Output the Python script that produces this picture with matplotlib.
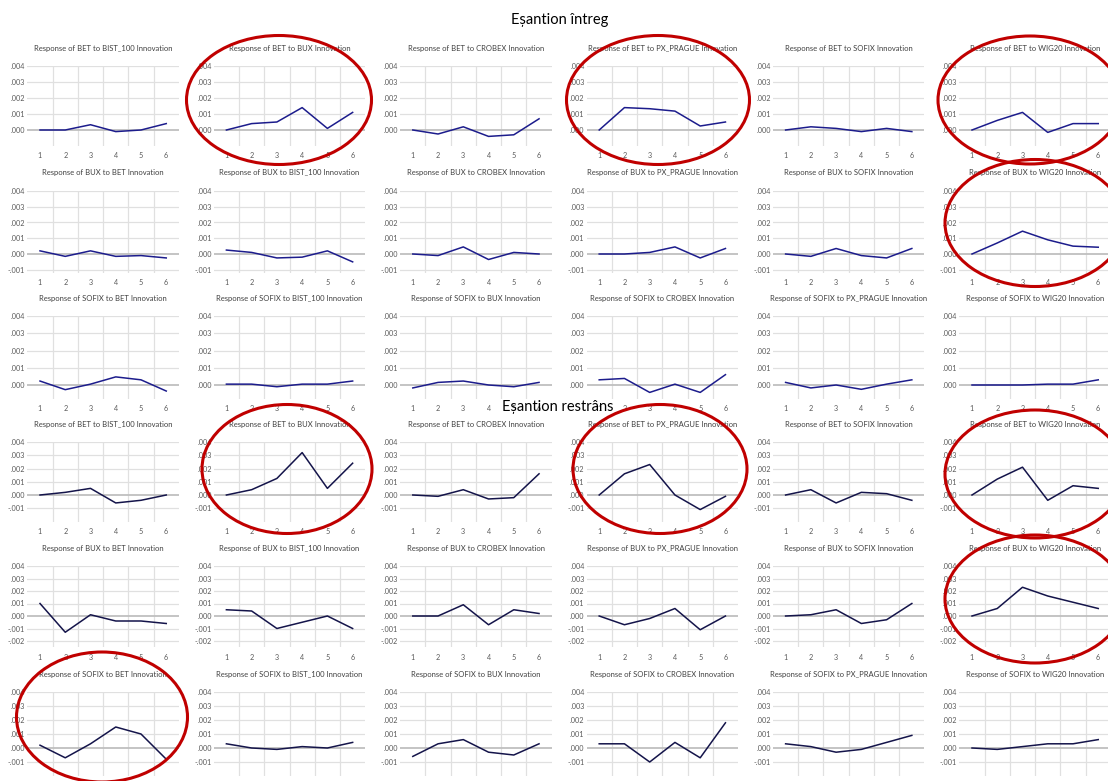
import matplotlib.pyplot as plt
from matplotlib.patches import Ellipse

# raspunsuri (perioadele 1..6)
periods = [1, 2, 3, 4, 5, 6]
markets = {"BET": ["BIST_100", "BUX", "CROBEX", "PX_PRAGUE", "SOFIX", "WIG20"],
           "BUX": ["BET", "BIST_100", "CROBEX", "PX_PRAGUE", "SOFIX", "WIG20"],
           "SOFIX": ["BET", "BIST_100", "BUX", "CROBEX", "PX_PRAGUE", "WIG20"]}

# esantion intreg
full_bet = [[0, 0, 0.00033, -0.0001, 0, 0.0004],
            [0, 0.0004, 0.0005, 0.0014, 0.0001, 0.0011],
            [0, -0.00025, 0.0002, -0.0004, -0.0003, 0.0007],
            [0, 0.0014, 0.00133, 0.00118, 0.00025, 0.0005],
            [0, 0.0002, 0.0001, -0.0001, 0.0001, -0.0001],
            [0, 0.0006, 0.0011, -0.00015, 0.0004, 0.0004]]
full_bux = [[0.0002, -0.00015, 0.0002, -0.00015, -0.0001, -0.00025],
            [0.00025, 0.0001, -0.00025, -0.0002, 0.0002, -0.0005],
            [0, -0.0001, 0.00045, -0.00035, 0.0001, 0],
            [0, 0, 0.0001, 0.00045, -0.00025, 0.00035],
            [0, -0.00015, 0.00035, -0.0001, -0.00025, 0.00035],
            [0, 0.0007, 0.00145, 0.0009, 0.0005, 0.00043]]
full_sofix = [[0.00023, -0.00027, 0.00005, 0.00047, 0.0003, -0.00035],
              [0.00005, 0.00005, -0.0001, 0.00005, 0.00005, 0.00023],
              [-0.00017, 0.00015, 0.00023, 0, -0.0001, 0.00015],
              [0.0003, 0.00038, -0.00043, 0.00005, -0.00043, 0.0006],
              [0.00015, -0.00017, 0, -0.00025, 0.00005, 0.0003],
              [0, 0, 0, 0.00005, 0.00005, 0.0003]]

# esantion restrans
restr_bet = [[0, 0.0002, 0.0005, -0.0006, -0.0004, 0],
             [0, 0.0004, 0.00125, 0.0032, 0.0005, 0.0024],
             [0, -0.0001, 0.0004, -0.0003, -0.0002, 0.0016],
             [0, 0.0016, 0.0023, 0, -0.0011, -0.0001],
             [0, 0.0004, -0.0006, 0.0002, 0.0001, -0.0004],
             [0, 0.0012, 0.0021, -0.0004, 0.0007, 0.0005]]
restr_bux = [[0.001, -0.0013, 0.0001, -0.0004, -0.0004, -0.0006],
             [0.0005, 0.0004, -0.001, -0.0005, 0, -0.001],
             [0, 0, 0.0009, -0.0007, 0.0005, 0.0002],
             [0, -0.0007, -0.0002, 0.0006, -0.0011, 0],
             [0, 0.0001, 0.0005, -0.0006, -0.0003, 0.001],
             [0, 0.0006, 0.0023, 0.0016, 0.0011, 0.0006]]
restr_sofix = [[0.0002, -0.0007, 0.0003, 0.0015, 0.001, -0.0008],
               [0.0003, 0, -0.0001, 0.0001, 0, 0.0004],
               [-0.0006, 0.0003, 0.0006, -0.0003, -0.0005, 0.0003],
               [0.0003, 0.0003, -0.001, 0.0004, -0.0007, 0.0018],
               [0.0003, 0.0001, -0.0003, -0.0001, 0.0004, 0.0009],
               [0, -0.0001, 0.0001, 0.0003, 0.0003, 0.0006]]

W, H = 1108, 781
plt.rcParams['font.family'] = ['Lato', 'DejaVu Sans']
fig = plt.figure(figsize=(W / 100, H / 100), dpi=100)

def fmt(v):
    s = ('%.3f' % abs(v))[1:]
    return '-' + s if v < -1e-9 else s

# (top px, ymin, px per .001, lowest labelled tick, serie, responder, culoare)
rows = [(66, -0.001, 16.0, 0.0, full_bet, "BET", "#1c1c8c"),
        (191, -0.0012, 15.75, -0.001, full_bux, "BUX", "#1c1c8c"),
        (316, -0.0008, 17.25, 0.0, full_sofix, "SOFIX", "#1c1c8c"),
        (442, -0.002, 13.25, -0.001, restr_bet, "BET", "#14144a"),
        (566, -0.0025, 12.5, -0.002, restr_bux, "BUX", "#14144a"),
        (692, -0.002, 14.0, -0.001, restr_sofix, "SOFIX", "#14144a")]

step = 25.25
for top, ymin, ppu, tmin, series, resp, col in rows:
    h = (0.004 - ymin) * 1000 * ppu
    for c in range(6):
        x1 = 40 + 186.4 * c
        left = x1 - step / 2
        w = step * 6
        ax = fig.add_axes([left / W, 1 - (top + h) / H, w / W, h / H])
        ax.plot(periods, series[c], color=col, lw=1.1, zorder=3)
        ax.set_xlim(0.5, 6.5)
        ax.set_ylim(ymin, 0.004)
        ticks = [t / 1000 for t in range(int(round(tmin * 1000)), 5)]
        ax.set_yticks(ticks)
        ax.set_yticklabels([fmt(t) for t in ticks])
        ax.set_xticks(periods)
        for t in ticks:
            if abs(t) > 1e-9:
                ax.axhline(t, color='#e0e0e0', lw=0.9, zorder=1)
        ax.axhline(0, color='#bfbfbf', lw=1.3, zorder=2)
        for v in [1.5, 2.5, 3.5, 4.5, 5.5]:
            ax.axvline(v, color='#e0e0e0', lw=0.9, zorder=1)
        for s in ax.spines.values():
            s.set_visible(False)
        ax.tick_params(length=0, labelsize=5.2, labelcolor='#595959', pad=1.5)
        ax.tick_params(axis='x', pad=4.5)
        ax.set_facecolor('none')
        ttl = "Response of %s to %s Innovation" % (resp, markets[resp][c])
        fig.text((left + w / 2) / W, 1 - (top - 18) / H, ttl, ha='center', va='center',
                 fontsize=5.5, color='#404040')

fig.text(560 / W, 1 - 20 / H, "Eșantion întreg", ha='center', va='center', fontsize=10.5)
fig.text(558 / W, 1 - 407 / H, "Eșantion restrâns", ha='center', va='center', fontsize=10.5)

# cercurile rosii
ells = [(279, 100, 185, 129), (658, 100, 183, 129), (1030, 100, 184, 128),
        (1035, 223, 180, 127), (287, 469, 170, 129), (660, 469, 174, 129),
        (1035, 474, 180, 128), (1035, 599, 180, 128), (102, 717, 171, 130)]
for cx, cy, ew, eh in ells:
    e = Ellipse((cx / W, 1 - cy / H), ew / W, eh / H, transform=fig.transFigure,
                fill=False, ec='#c00000', lw=2.2, zorder=10)
    fig.add_artist(e)

fig.savefig("out.png", dpi=100)
